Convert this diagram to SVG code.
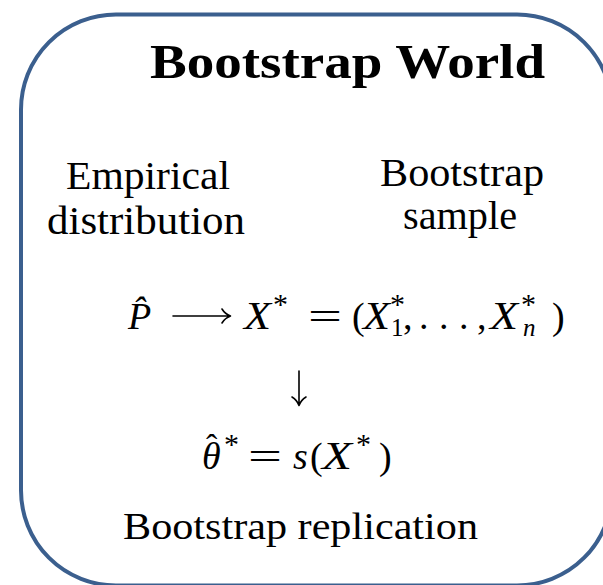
<svg xmlns="http://www.w3.org/2000/svg" width="603" height="585" viewBox="0 0 603 585">
<style>
.t{font-family:"Liberation Serif","DejaVu Serif",serif;fill:#000}
.txt{font-size:40px}
.m{font-size:38px}
.i{font-style:italic}
.x{font-size:41px;font-style:italic}
.s{font-size:30px;font-style:normal}
.sb{font-size:25px}
.arrow{fill:none;stroke:#000;stroke-width:1.6;stroke-linecap:round;stroke-linejoin:round}
</style>
<rect x="21" y="14.5" width="591" height="571" rx="95" ry="95" fill="#fff" stroke="#3b5f8e" stroke-width="4"/>
<g id="title"><text class="t" x="150" y="78" font-size="48" font-weight="bold" textLength="395" lengthAdjust="spacingAndGlyphs">Bootstrap World</text></g>
<g id="empirical">
<text class="t txt" x="66" y="189" textLength="164" lengthAdjust="spacingAndGlyphs">Empirical</text>
<text class="t txt" x="47" y="234" textLength="198" lengthAdjust="spacingAndGlyphs">distribution</text>
</g>
<g id="sample">
<text class="t txt" x="380" y="186" textLength="164" lengthAdjust="spacingAndGlyphs">Bootstrap</text>
<text class="t txt" x="403" y="229" textLength="114" lengthAdjust="spacingAndGlyphs">sample</text>
</g>
<g id="formula1">
<text class="t m"><tspan class="i" x="128" y="329">P̂</tspan><tspan class="x" x="244" y="329" textLength="27" lengthAdjust="spacingAndGlyphs">X</tspan><tspan class="s" x="273" y="314">*</tspan><tspan x="308" y="329" textLength="34" lengthAdjust="spacingAndGlyphs">=</tspan><tspan x="352" y="329">(</tspan><tspan class="x" x="363" y="329" textLength="27" lengthAdjust="spacingAndGlyphs">X</tspan><tspan class="s" x="390" y="314">*</tspan><tspan class="sb" x="391" y="336">1</tspan><tspan x="403" y="329">,</tspan><tspan x="419" y="329">.</tspan><tspan x="439" y="329">.</tspan><tspan x="459" y="329">.</tspan><tspan x="477" y="329">,</tspan><tspan class="x" x="490" y="329" textLength="28" lengthAdjust="spacingAndGlyphs">X</tspan><tspan class="s" x="521" y="314">*</tspan><tspan class="sb i" x="523" y="336">n</tspan><tspan x="552" y="329">)</tspan></text>
</g>
<g id="formula2">
<text class="t m"><tspan class="i" x="202" y="469">θ</tspan><tspan x="206" y="458" font-size="34">ˆ</tspan><tspan class="s" x="224" y="454">*</tspan><tspan x="248" y="469" textLength="34" lengthAdjust="spacingAndGlyphs">=</tspan><tspan class="i" x="293" y="469">s</tspan><tspan x="310" y="469">(</tspan><tspan class="x" x="322" y="469" textLength="30" lengthAdjust="spacingAndGlyphs">X</tspan><tspan class="s" x="356" y="454">*</tspan><tspan x="379" y="469">)</tspan></text>
</g>
<g id="replication"><text class="t" x="123" y="539" font-size="38" textLength="355" lengthAdjust="spacingAndGlyphs">Bootstrap replication</text></g>
<g id="connectors">
<path class="arrow" d="M173,316 H230 M222,309 Q225,314 230.5,316 Q225,318 222,323"/>
<path class="arrow" d="M299,371 V405 M292,397 Q297,400 299,405.5 Q301,400 306,397"/>
</g>
</svg>
